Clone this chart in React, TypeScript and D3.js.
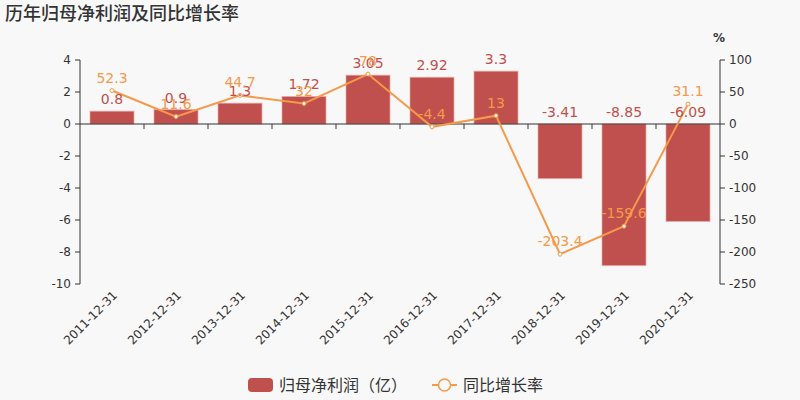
import React from 'react'
import * as d3 from 'd3'

const categories = ['2011-12-31', '2012-12-31', '2013-12-31', '2014-12-31', '2015-12-31', '2016-12-31', '2017-12-31', '2018-12-31', '2019-12-31', '2020-12-31']
const profit = [0.8, 0.9, 1.3, 1.72, 3.05, 2.92, 3.3, -3.41, -8.85, -6.09]
const growth = [52.3, 11.6, 44.7, 32, 78, -4.4, 13, -203.4, -159.6, 31.1]
const leftTicks = [4, 2, 0, -2, -4, -6, -8, -10]
const rightTicks = [100, 50, 0, -50, -100, -150, -200, -250]

const W = 800
const H = 400
const margin = { top: 60, right: 80, bottom: 116, left: 80 }
const barColor = '#c0504d'
const lineColor = '#f5994a'
const font = '"DejaVu Sans", "Noto Sans CJK SC", sans-serif'

export default function App() {
  const x = d3.scaleBand<string>()
    .domain(categories)
    .range([margin.left, W - margin.right])
    .paddingInner(0.3125)
    .paddingOuter(0.15625)
  const band = d3.scaleBand<string>().domain(categories).range([margin.left, W - margin.right])
  const yL = d3.scaleLinear().domain([-10, 4]).range([H - margin.bottom, margin.top])
  const yR = d3.scaleLinear().domain([-250, 100]).range([H - margin.bottom, margin.top])
  const cx = (c: string) => (band(c) ?? 0) + band.bandwidth() / 2

  const line = d3.line<number>()
    .x((_, i) => cx(categories[i]))
    .y(d => yR(d))

  const zeroY = yL(0)

  return (
    <svg width={W} height={H} style={{ position: 'absolute', left: 0, top: 0, background: '#f8f8f8', fontFamily: font }}>
      <rect width={W} height={H} fill="#f8f8f8" />
      <text x={5} y={20} fontSize={18} fill="#333" fontWeight={500}>历年归母净利润及同比增长率</text>

      {/* bars */}
      {profit.map((v, i) => {
        const c = categories[i]
        const y0 = yL(Math.max(0, v))
        const h = Math.abs(yL(v) - zeroY)
        return (
          <rect key={c} x={x(c)} y={y0} width={x.bandwidth()} height={h}
            fill={barColor} stroke="#e8a8a6" strokeWidth={1} strokeOpacity={0.7} />
        )
      })}

      {/* left axis */}
      <line x1={margin.left} x2={margin.left} y1={margin.top} y2={H - margin.bottom} stroke="#333" />
      {leftTicks.map(t => (
        <g key={t} transform={`translate(${margin.left},${yL(t)})`}>
          <line x1={-5} x2={0} stroke="#333" />
          <text x={-9} dy="0.35em" textAnchor="end" fontSize={12} fill="#333">{t}</text>
        </g>
      ))}

      {/* right axis */}
      <line x1={W - margin.right} x2={W - margin.right} y1={margin.top} y2={H - margin.bottom} stroke="#333" />
      {rightTicks.map(t => (
        <g key={t} transform={`translate(${W - margin.right},${yR(t)})`}>
          <line x1={0} x2={5} stroke="#333" />
          <text x={9} dy="0.35em" textAnchor="start" fontSize={12} fill="#333">{t}</text>
        </g>
      ))}
      <text x={W - margin.right - 1} y={42} textAnchor="middle" fontSize={12} fill="#333" fontWeight="bold">%</text>

      {/* x axis at zero */}
      <line x1={margin.left} x2={W - margin.right} y1={zeroY} y2={zeroY} stroke="#333" />
      {categories.slice(1).map(c => (
        <line key={c} x1={band(c)} x2={band(c)} y1={zeroY} y2={zeroY + 5} stroke="#333" />
      ))}
      {categories.map(c => (
        <text key={c} transform={`translate(${cx(c) + 3},${H - margin.bottom + 9}) rotate(-45)`}
          textAnchor="end" dy="0.35em" fontSize={12} fill="#333">{c}</text>
      ))}

      {/* line */}
      <path d={line(growth) ?? ''} fill="none" stroke={lineColor} strokeWidth={2} />
      {growth.map((v, i) => (
        <circle key={i} cx={cx(categories[i])} cy={yR(v)} r={2} fill="#fff" stroke={lineColor} strokeWidth={1} />
      ))}

      {/* bar labels */}
      {profit.map((v, i) => (
        <text key={i} x={cx(categories[i])} y={yL(Math.max(0, v)) - 7} textAnchor="middle" fontSize={14} fill="#c0504d">{v}</text>
      ))}
      {/* line labels */}
      {growth.map((v, i) => (
        <text key={i} x={cx(categories[i])} y={yR(v) - 8} textAnchor="middle" fontSize={14} fill={lineColor}>{v}</text>
      ))}

      {/* legend */}
      <rect x={248} y={378} width={25} height={14} rx={4} fill={barColor} />
      <text x={279} y={385} dy="0.35em" fontSize={16} fill="#333">归母净利润（亿）</text>
      <line x1={432} x2={457} y1={385} y2={385} stroke={lineColor} strokeWidth={2} />
      <circle cx={444.5} cy={385} r={6} fill="#f8f8f8" stroke={lineColor} strokeWidth={1.5} />
      <text x={463} y={385} dy="0.35em" fontSize={16} fill="#333">同比增长率</text>
    </svg>
  )
}
